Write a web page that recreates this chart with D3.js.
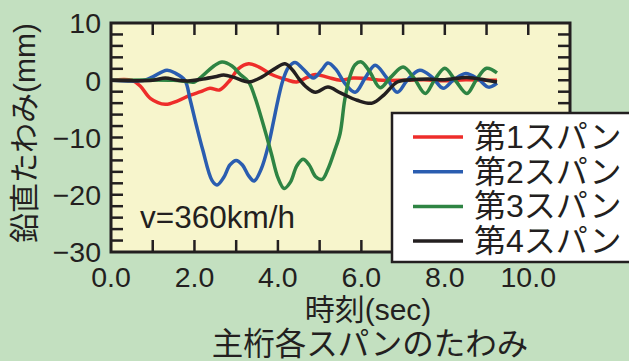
<!DOCTYPE html>
<html><head><meta charset="utf-8">
<script src="https://cdn.jsdelivr.net/npm/d3@7"></script>
<style>
html,body{margin:0;padding:0;background:#c3e0c0;}
svg{display:block;}
text{font-family:"Liberation Sans","Noto Sans CJK JP",sans-serif;fill:#231f20;}
</style></head><body>
<svg id="c" width="629" height="361"></svg>
<script>
const seriesNames = ["第1スパン","第2スパン","第3スパン","第4スパン"];
const seriesColors = ["#ee2d2a","#2a5db0","#2e8443","#231f20"];
const xTickLabels = ["0.0","2.0","4.0","6.0","8.0","10.0"];
const yTickLabels = ["10","0","−10","−20","−30"];

const span1 = [[0,0],[0.5,0],[0.7,-1],[0.95,-3.2],[1.3,-4.2],[1.6,-3.6],[1.9,-2.6],[2.15,-2.0],[2.37,-1.4],[2.6,-1.7],[2.85,0],[3.05,2.0],[3.3,2.9],[3.55,2.3],[3.85,1.0],[4.2,0.1],[4.45,-0.3],[4.7,0.5],[4.9,1.0],[5.2,0.5],[5.5,0],[5.8,0.4],[6.1,0.3],[6.5,0],[7.0,0],[7.5,0.1],[8.0,-0.1],[8.5,0.1],[9.0,0],[9.25,0]];
const span2 = [[0,0],[0.8,0],[1.0,0.6],[1.34,1.75],[1.55,1.2],[1.77,0],[1.9,-3.5],[2.05,-8],[2.2,-12.2],[2.42,-17.5],[2.54,-18.3],[2.7,-17],[2.85,-14.8],[3.0,-14],[3.15,-14.8],[3.3,-16.7],[3.43,-17.6],[3.6,-15.5],[3.77,-11.4],[3.9,-7],[4.0,-3.5],[4.12,0],[4.25,2.2],[4.41,3.1],[4.6,2.0],[4.85,0.4],[5.05,1.8],[5.2,3.0],[5.4,1.8],[5.6,-0.5],[5.85,-2.1],[6.1,0.5],[6.33,2.6],[6.6,0.5],[6.86,-2.1],[7.1,0],[7.4,1.75],[7.7,0.5],[7.96,-1.4],[8.2,0],[8.5,1.2],[8.8,0.2],[9.05,-1.2],[9.25,-0.5]];
const span3 = [[0,0],[1.5,0],[1.8,-0.2],[2.0,-0.3],[2.2,0.8],[2.45,2.4],[2.66,3.2],[2.9,2.5],[3.1,1.0],[3.3,-0.3],[3.45,-3],[3.6,-6.5],[3.73,-9.8],[3.85,-13],[4.0,-17],[4.15,-18.9],[4.3,-17.8],[4.45,-15],[4.6,-13.8],[4.75,-14.8],[4.9,-16.8],[5.06,-17.3],[5.2,-15.5],[5.35,-12.5],[5.49,-9.3],[5.6,-3.5],[5.72,0.5],[5.85,2.7],[6.0,3.2],[6.2,1.5],[6.45,-1.3],[6.7,0.5],[7.0,2.3],[7.25,0.5],[7.53,-2.3],[7.75,0],[8.0,2.1],[8.25,0],[8.53,-2.3],[8.75,0],[9.0,2.1],[9.25,1.3]];
const span4 = [[0,0],[1.0,0],[1.3,0.4],[1.6,0],[1.9,-0.1],[2.2,0.2],[2.5,0.6],[2.7,0.9],[2.95,0.5],[3.3,-0.3],[3.6,0.5],[3.9,1.9],[4.17,2.9],[4.35,1.8],[4.5,0.3],[4.7,-1.3],[4.9,-2.1],[5.2,-1.2],[5.5,-2.2],[5.9,-3.5],[6.26,-4.0],[6.55,-2.5],[6.86,-0.3],[7.2,0.1],[7.6,0.2],[8.0,0.1],[8.53,0.5],[9.0,0],[9.25,-0.3]];
const allSeries = [span1, span2, span3, span4];

const svg = d3.select("#c");
const L = 111, R = 570, T = 23, B = 252;
const x = d3.scaleLinear().domain([0, 11]).range([L, R]);
const y = d3.scaleLinear().domain([-30, 10]).range([B, T]);

svg.append("rect").attr("x", L).attr("y", T).attr("width", R - L).attr("height", B - T).attr("fill", "#f7f5cc");

const line = d3.line().x(d => x(d[0])).y(d => y(d[1])).curve(d3.curveCatmullRom.alpha(0.5));
const plot = svg.append("g");
[0,1,2,3].forEach(i => {
  plot.append("path").attr("d", line(allSeries[i])).attr("fill", "none")
    .attr("stroke", seriesColors[i]).attr("stroke-width", 3.5).attr("stroke-linejoin", "round");
});

const tl = 12;
const xt = d3.range(1, 11);
const yt = d3.range(-28, 10, 2);
const ticks = svg.append("g").attr("stroke", "#231f20").attr("stroke-width", 2.5);
xt.forEach(t => {
  ticks.append("line").attr("x1", x(t)).attr("x2", x(t)).attr("y1", B).attr("y2", B - tl);
  ticks.append("line").attr("x1", x(t)).attr("x2", x(t)).attr("y1", T).attr("y2", T + tl);
});
yt.forEach(t => {
  ticks.append("line").attr("x1", L).attr("x2", L + tl).attr("y1", y(t)).attr("y2", y(t));
  ticks.append("line").attr("x1", R).attr("x2", R - tl).attr("y1", y(t)).attr("y2", y(t));
});
svg.append("rect").attr("x", L).attr("y", T).attr("width", R - L).attr("height", B - T)
  .attr("fill", "none").attr("stroke", "#231f20").attr("stroke-width", 3);

xTickLabels.forEach((s, i) => {
  svg.append("text").attr("x", x(i * 2)).attr("y", 287).attr("text-anchor", "middle")
    .attr("font-size", 28.5).text(s);
});
yTickLabels.forEach((s, i) => {
  svg.append("text").attr("x", 101).attr("y", y(10 - i * 10)).attr("dy", "0.36em").attr("text-anchor", "end")
    .attr("font-size", 28.5).text(s);
});

svg.append("text").attr("x", 24).attr("y", 133).attr("transform", "rotate(-90,24,133)")
  .attr("text-anchor", "middle").attr("dominant-baseline", "central").attr("font-size", 30).text("鉛直たわみ(mm)");
svg.append("text").attr("x", 368).attr("y", 320).attr("text-anchor", "middle").attr("font-size", 30).text("時刻(sec)");
svg.append("text").attr("x", 370).attr("y", 355).attr("text-anchor", "middle").attr("font-size", 31.5).text("主桁各スパンのたわみ");
svg.append("text").attr("x", 140).attr("y", 228).attr("font-size", 31.5).text("v=360km/h");

const lg = svg.append("g");
lg.append("rect").attr("x", 392).attr("y", 113).attr("width", 260).attr("height", 149)
  .attr("fill", "#ffffff").attr("stroke", "#231f20").attr("stroke-width", 2.5);
seriesNames.forEach((n, i) => {
  const yy = 137 + i * 34.7;
  lg.append("line").attr("x1", 413).attr("x2", 463).attr("y1", yy).attr("y2", yy)
    .attr("stroke", seriesColors[i]).attr("stroke-width", 3.5);
  lg.append("text").attr("x", 474).attr("y", yy).attr("dominant-baseline", "central")
    .attr("font-size", 32).text(n);
});
</script></body></html>
